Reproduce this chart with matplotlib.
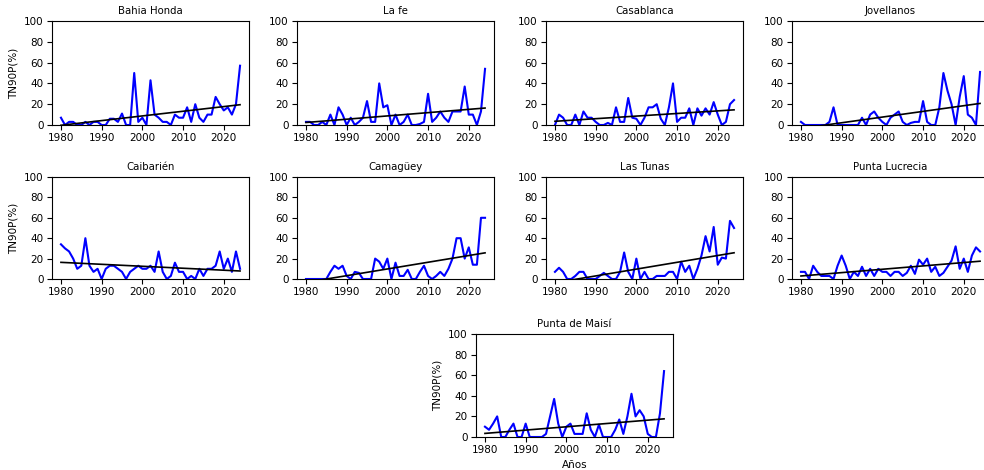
import matplotlib.pyplot as plt
import numpy as np

years = np.arange(1980, 2025)

bahia_honda = [7, 0, 3, 3, 0, 0, 3, 0, 3, 3, 0, 0, 6, 6, 3, 11, 0, 0, 50, 3,
               7, 0, 43, 10, 7, 3, 3, 0, 10, 7, 7, 17, 3, 20, 7, 3, 10, 10, 27, 20,
               14, 17, 10, 20, 57]
la_fe = [3, 3, 0, 0, 3, 0, 10, 0, 17, 10, 0, 7, 0, 3, 7, 23, 3, 3, 40, 17,
         19, 0, 10, 0, 3, 10, 0, 0, 1, 3, 30, 3, 7, 13, 7, 3, 13, 13, 13, 37,
         10, 10, 0, 13, 54]
casablanca = [0, 10, 7, 0, 0, 10, 0, 13, 7, 7, 3, 0, 0, 2, 0, 17, 3, 3, 26, 7,
              6, 0, 7, 17, 17, 20, 6, 0, 17, 40, 3, 7, 7, 16, 0, 16, 9, 16, 10, 22,
              10, 0, 3, 20, 24]
jovellanos = [3, 0, 0, 0, 0, 0, 0, 3, 17, 0, 0, 0, 0, 0, 0, 7, 0, 10, 13, 7,
              3, 0, 7, 10, 13, 3, 0, 2, 3, 3, 23, 3, 0, 0, 17, 50, 33, 20, 0, 27,
              47, 10, 7, 0, 51]
caibarien = [34, 30, 27, 20, 10, 13, 40, 13, 7, 10, 0, 10, 13, 13, 10, 7, 0, 7, 10, 13,
             10, 10, 13, 7, 27, 7, 0, 3, 16, 7, 7, 0, 3, 0, 10, 3, 10, 10, 13, 27,
             10, 20, 7, 27, 10]
camaguey = [0, 0, 0, 0, 0, 0, 7, 13, 10, 13, 3, 0, 7, 6, 0, 0, 0, 20, 17, 10,
            20, 0, 16, 3, 3, 9, 0, 0, 7, 13, 3, 0, 3, 7, 3, 10, 20, 40, 40, 20,
            31, 14, 14, 60, 60]
las_tunas = [7, 11, 7, 0, 0, 3, 7, 7, 0, 0, 0, 3, 6, 3, 0, 0, 7, 26, 7, 0,
             20, 0, 7, 0, 0, 3, 3, 3, 7, 7, 0, 17, 7, 13, 0, 10, 23, 42, 27, 51,
             14, 21, 20, 57, 50]
punta_lucrecia = [7, 7, 0, 13, 7, 3, 3, 3, 0, 13, 23, 13, 0, 7, 3, 12, 3, 10, 3, 10,
                  7, 7, 3, 7, 7, 3, 6, 13, 5, 19, 14, 20, 7, 12, 3, 6, 12, 18, 32, 10,
                  20, 7, 23, 31, 27]
punta_maisi = [10, 7, 13, 20, 0, 0, 7, 13, 0, 0, 13, 0, 0, 0, 0, 3, 20, 37, 13, 0,
               10, 13, 3, 3, 3, 23, 7, 0, 12, 0, 0, 0, 7, 17, 3, 20, 42, 20, 26, 20,
               3, 0, 0, 23, 64]

stations = ["Bahia Honda", "La fe", "Casablanca", "Jovellanos", "Caibarién",
            "Camagüey", "Las Tunas", "Punta Lucrecia", "Punta de Maisí"]
series = [bahia_honda, la_fe, casablanca, jovellanos, caibarien,
          camaguey, las_tunas, punta_lucrecia, punta_maisi]

W, H = 984, 470
fig = plt.figure(figsize=(W / 100, H / 100), dpi=100)

# axes boxes in pixels: left, top, right, bottom
col_left = [52, 297, 546, 792]
boxes = []
for top, bot in [(21, 125), (177, 279)]:
    for c in range(4):
        boxes.append((col_left[c], top, col_left[c] + 197, bot))
boxes.append((476, 334, 673, 437))

for i, (name, vals) in enumerate(zip(stations, series)):
    l, t, rr, b = boxes[i]
    ax = fig.add_axes([l / W, 1 - b / H, (rr - l) / W, (b - t) / H])
    vals = np.array(vals, dtype=float)
    ax.plot(years, vals, color="blue", lw=1.5)
    k, c0 = np.polyfit(years, vals, 1)
    ax.plot(years, k * years + c0, color="black", lw=1.2)
    ax.set_ylim(0, 100)
    ax.set_xlim(1977.8, 2026.2)
    ax.set_xticks([1980, 1990, 2000, 2010, 2020])
    ax.set_yticks([0, 20, 40, 60, 80, 100])
    ax.tick_params(labelsize=7.5, pad=2.5)
    ax.set_title(name, fontsize=7.3, pad=5)
    if i in (0, 4, 8):
        ax.set_ylabel("TN90P(%)", fontsize=7.5, labelpad=4)
    if i == 8:
        ax.set_xlabel("Años", fontsize=7.5, labelpad=3)

fig.savefig("out.png", dpi=100)
